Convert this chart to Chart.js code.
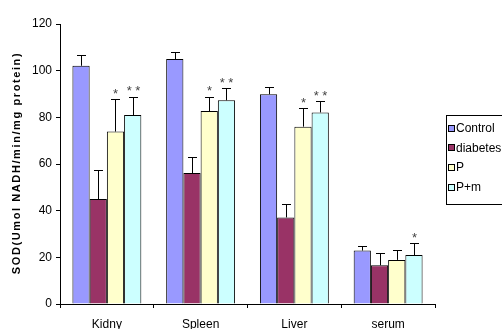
<!DOCTYPE html>
<html>
<head>
<meta charset="utf-8">
<script src="https://cdn.jsdelivr.net/npm/chart.js@4"></script>
<style>
  html, body { margin: 0; padding: 0; background: #fff; }
  #wrap { width: 502px; height: 329px; position: relative; }
</style>
</head>
<body>
<div id="wrap"><canvas id="sod_plot"></canvas></div>
<script>
// data
var categories = ["Kidny", "Spleen", "Liver", "serum"];
var seriesNames = ["Control", "diabetes", "P", "P+m"];
var control  = [102.1, 105.0, 89.9, 22.9];
var diabetes = [45.0, 56.1, 37.1, 16.6];
var pOnly    = [73.9, 82.7, 76.0, 18.9];
var pPlusM   = [81.0, 87.3, 82.1, 21.0];
// upper end of each error bar
var controlErr  = [106.7, 107.9, 92.9, 25.0];
var diabetesErr = [57.3, 62.9, 42.7, 21.7];
var pOnlyErr    = [87.7, 88.8, 83.9, 23.1];
var pPlusMErr   = [88.8, 92.4, 87.0, 26.1];
// significance marks
var pOnlyStars  = ["*", "*", "*", ""];
var pPlusMStars = ["* *", "* *", "* *", "*"];
var yTicks = [0, 20, 40, 60, 80, 100, 120];

var colors = ["#9999FF", "#993366", "#FFFFCC", "#CCFFFF"];
var values = [control, diabetes, pOnly, pPlusM];
var errs = [controlErr, diabetesErr, pOnlyErr, pPlusMErr];
var stars = [["", "", "", ""], ["", "", "", ""], pOnlyStars, pPlusMStars];

var FONT = "Arial, 'Liberation Sans', sans-serif";

var datasets = seriesNames.map(function (name, i) {
  return {
    label: name,
    data: values[i],
    err: errs[i],
    stars: stars[i],
    backgroundColor: colors[i],
    borderColor: "#000",
    borderWidth: 1,
    categoryPercentage: 0.735,
    barPercentage: 1.0
  };
});

var extras = {
  id: "extras",
  afterDatasetsDraw: function (chart) {
    var ctx = chart.ctx;
    var y = chart.scales.y;
    ctx.save();
    chart.data.datasets.forEach(function (ds, di) {
      var meta = chart.getDatasetMeta(di);
      meta.data.forEach(function (bar, k) {
        var top = y.getPixelForValue(ds.err[k]);
        var x = Math.round(bar.x) + 0.5;
        ctx.strokeStyle = "#000";
        ctx.lineWidth = 1;
        ctx.beginPath();
        ctx.moveTo(x, bar.y);
        ctx.lineTo(x, Math.round(top) + 0.5);
        ctx.moveTo(x - 4.5, Math.round(top) + 0.5);
        ctx.lineTo(x + 4.5, Math.round(top) + 0.5);
        ctx.stroke();
        if (ds.stars[k]) {
          ctx.fillStyle = "#444";
          ctx.font = "13px " + FONT;
          ctx.textAlign = "center";
          ctx.textBaseline = "middle";
          ctx.fillText(ds.stars[k], x, top - 5);
        }
      });
    });
    ctx.restore();
  },
  afterDraw: function (chart) {
    var ctx = chart.ctx;
    ctx.save();
    // y axis title
    ctx.translate(17, 163);
    ctx.rotate(-Math.PI / 2);
    ctx.fillStyle = "#000";
    ctx.font = "bold 11px " + FONT;
    ctx.letterSpacing = "1.6px";
    ctx.textAlign = "center";
    ctx.textBaseline = "middle";
    ctx.fillText("SOD(Umol NADH/min/mg protein)", 0, 0);
    ctx.restore();

    // legend box
    ctx.save();
    ctx.strokeStyle = "#000";
    ctx.lineWidth = 1;
    ctx.strokeRect(446.5, 115.5, 60, 89);
    ctx.font = "12px " + FONT;
    ctx.textBaseline = "middle";
    chart.data.datasets.forEach(function (ds, i) {
      var cy = 128.5 + i * 19.8;
      ctx.fillStyle = ds.backgroundColor;
      ctx.fillRect(448.5, Math.round(cy) - 3.5, 6, 6);
      ctx.strokeStyle = "#000";
      ctx.strokeRect(448.5, Math.round(cy) - 3.5, 6, 6);
      ctx.fillStyle = "#000";
      ctx.fillText(ds.label, 456, cy);
    });
    ctx.restore();
  }
};

new Chart(document.getElementById("sod_plot"), {
  type: "bar",
  data: { labels: categories, datasets: datasets },
  options: {
    responsive: true,
    maintainAspectRatio: false,
    animation: false,
    layout: { padding: { top: 24, right: 67, left: 0, bottom: 0 } },
    plugins: { legend: { display: false }, tooltip: { enabled: false } },
    scales: {
      x: {
        grid: { offset: true, drawOnChartArea: false, tickLength: 4, color: "#000" },
        border: { color: "#000" },
        ticks: { color: "#000", font: { family: FONT, size: 12 }, padding: 9 },
        afterFit: function (s) { s.height = 25; }
      },
      y: {
        min: 0,
        max: 120,
        afterBuildTicks: function (s) { s.ticks = yTicks.map(function (v) { return { value: v }; }); },
        grid: { drawOnChartArea: false, tickLength: 4, color: "#000" },
        border: { color: "#000" },
        ticks: { color: "#000", font: { family: FONT, size: 12 }, padding: 4 },
        afterFit: function (s) { s.width = 60; }
      }
    }
  },
  plugins: [extras]
});
</script>
</body>
</html>
